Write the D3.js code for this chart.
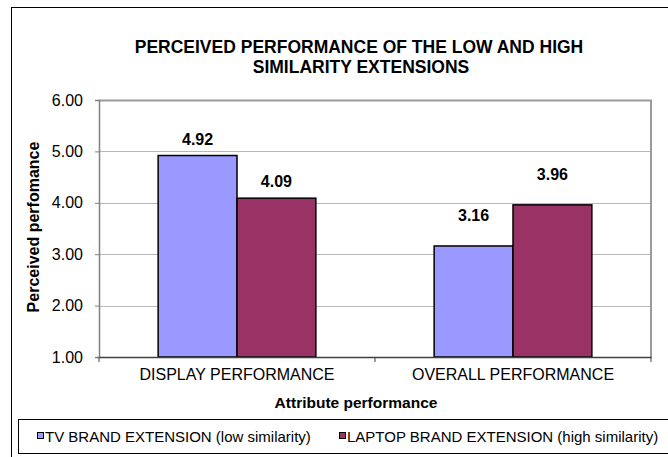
<!DOCTYPE html>
<html>
<head>
<meta charset="utf-8">
<script src="https://cdn.jsdelivr.net/npm/d3@7"></script>
<style>
  html, body { margin: 0; padding: 0; background: #fff; }
  svg { display: block; font-family: "Liberation Sans", Arial, sans-serif; }
</style>
</head>
<body>
<svg id="chart" width="668" height="457"></svg>
<script>
// Chart data
const categories = ["DISPLAY PERFORMANCE", "OVERALL PERFORMANCE"];
const seriesNames = ["TV BRAND EXTENSION (low similarity)", "LAPTOP BRAND EXTENSION (high similarity)"];
const tvValues = [4.92, 3.16];
const laptopValues = [4.09, 3.96];
const yTicks = [1, 2, 3, 4, 5, 6];

const colors = ["#9999FF", "#993366"];
const series = [tvValues, laptopValues];

const svg = d3.select("#chart");
const FONT = "\"Liberation Sans\", Arial, sans-serif";

// plot rectangle
const plot = { left: 99, right: 651, top: 100, bottom: 357 };

// outer chart frame
svg.append("rect")
  .attr("x", 11.5).attr("y", 7.5)
  .attr("width", 720).attr("height", 500)
  .attr("fill", "#fff").attr("stroke", "#000").attr("stroke-width", 1);

// title
const title = svg.append("text")
  .attr("text-anchor", "middle")
  .attr("font-weight", "bold").attr("font-size", 17.5)
  .attr("fill", "#000");
title.append("tspan").attr("x", 359).attr("y", 53).text("PERCEIVED PERFORMANCE OF THE LOW AND HIGH");
title.append("tspan").attr("x", 361).attr("y", 72.5).text("SIMILARITY EXTENSIONS");

const x0 = d3.scaleBand().domain(categories).range([plot.left, plot.right]).paddingInner(0).paddingOuter(0);
const x1 = d3.scaleBand().domain(d3.range(series.length)).range([0, x0.bandwidth()]).paddingInner(0).paddingOuter(0.75);
const y = d3.scaleLinear().domain([1, 6]).range([plot.bottom, plot.top]);

// gridlines
svg.append("g").selectAll("line")
  .data(yTicks.filter(t => t > 1 && t < 6))
  .join("line")
  .attr("x1", plot.left).attr("x2", plot.right)
  .attr("y1", d => Math.round(y(d)) + 0.5).attr("y2", d => Math.round(y(d)) + 0.5)
  .attr("stroke", "#b8b8b8").attr("stroke-width", 1);

// plot frame (top and right)
svg.append("path")
  .attr("d", `M${plot.left},${plot.top + 0.5}H${plot.right}V${plot.bottom}`)
  .attr("fill", "none").attr("stroke", "#9a9a9a").attr("stroke-width", 2);

// y axis
const yAxis = d3.axisLeft(y).tickValues(yTicks).tickFormat(d3.format(".2f")).tickSize(4).tickPadding(12);
const gy = svg.append("g").attr("transform", `translate(${plot.left},0)`).call(yAxis);
gy.select(".domain").attr("stroke", "#808080").attr("stroke-width", 1.5);
gy.selectAll(".tick line").attr("stroke", "#808080");
gy.selectAll(".tick text").attr("font-size", 16).attr("fill", "#000").attr("font-family", FONT);

// bars
const groups = svg.append("g").selectAll("g")
  .data(categories)
  .join("g")
  .attr("transform", d => `translate(${x0(d)},0)`);

groups.selectAll("rect")
  .data((c, ci) => series.map((s, si) => ({ si, v: s[ci] })))
  .join("rect")
  .attr("x", d => x1(d.si))
  .attr("y", d => y(d.v))
  .attr("width", x1.bandwidth())
  .attr("height", d => y(1) - y(d.v))
  .attr("fill", d => colors[d.si])
  .attr("stroke", "#000").attr("stroke-width", 1.5);

// value labels; the second group's labels sit higher above the bars
const labelLift = [11, 25];
groups.each(function (c, ci) {
  d3.select(this).selectAll("text.val")
    .data(series.map((s, si) => ({ si, v: s[ci] })))
    .join("text")
    .attr("class", "val")
    .attr("x", d => x1(d.si) + x1.bandwidth() / 2)
    .attr("y", d => y(d.v) - labelLift[ci])
    .attr("text-anchor", "middle")
    .attr("font-weight", "bold").attr("font-size", 16)
    .text(d => d3.format(".2f")(d.v));
});

// x axis
const xAxis = d3.axisBottom(x0).tickSize(0).tickPadding(12);
const gx = svg.append("g").attr("transform", `translate(0,${plot.bottom})`).call(xAxis);
gx.select(".domain").attr("stroke", "#404040").attr("stroke-width", 1.5);
gx.selectAll(".tick text").attr("font-size", 16).attr("fill", "#000").attr("font-family", FONT);
// category boundary ticks
svg.append("g").selectAll("line")
  .data(d3.range(categories.length + 1))
  .join("line")
  .attr("x1", i => plot.left + i * x0.bandwidth())
  .attr("x2", i => plot.left + i * x0.bandwidth())
  .attr("y1", plot.bottom).attr("y2", plot.bottom + 5)
  .attr("stroke", "#404040").attr("stroke-width", 1);

// axis titles
svg.append("text")
  .attr("x", 356).attr("y", 408)
  .attr("text-anchor", "middle")
  .attr("font-weight", "bold").attr("font-size", 15.5)
  .text("Attribute performance");

svg.append("text")
  .attr("transform", `translate(39,227) rotate(-90)`)
  .attr("text-anchor", "middle")
  .attr("font-weight", "bold").attr("font-size", 16)
  .text("Perceived perfomance");

// legend
svg.append("rect")
  .attr("x", 18.5).attr("y", 419.5)
  .attr("width", 700).attr("height", 34)
  .attr("fill", "#fff").attr("stroke", "#000").attr("stroke-width", 1);

const legendX = [37, 339];
const legend = svg.append("g").selectAll("g")
  .data(seriesNames)
  .join("g")
  .attr("transform", (d, i) => `translate(${legendX[i]},436)`);
legend.append("rect")
  .attr("x", 0.5).attr("y", -3.5).attr("width", 6).attr("height", 6)
  .attr("fill", (d, i) => colors[i]).attr("stroke", "#000").attr("stroke-width", 1);
legend.append("text")
  .attr("x", 8).attr("y", 5.5)
  .attr("font-size", 15)
  .text(d => d);
</script>
</body>
</html>
